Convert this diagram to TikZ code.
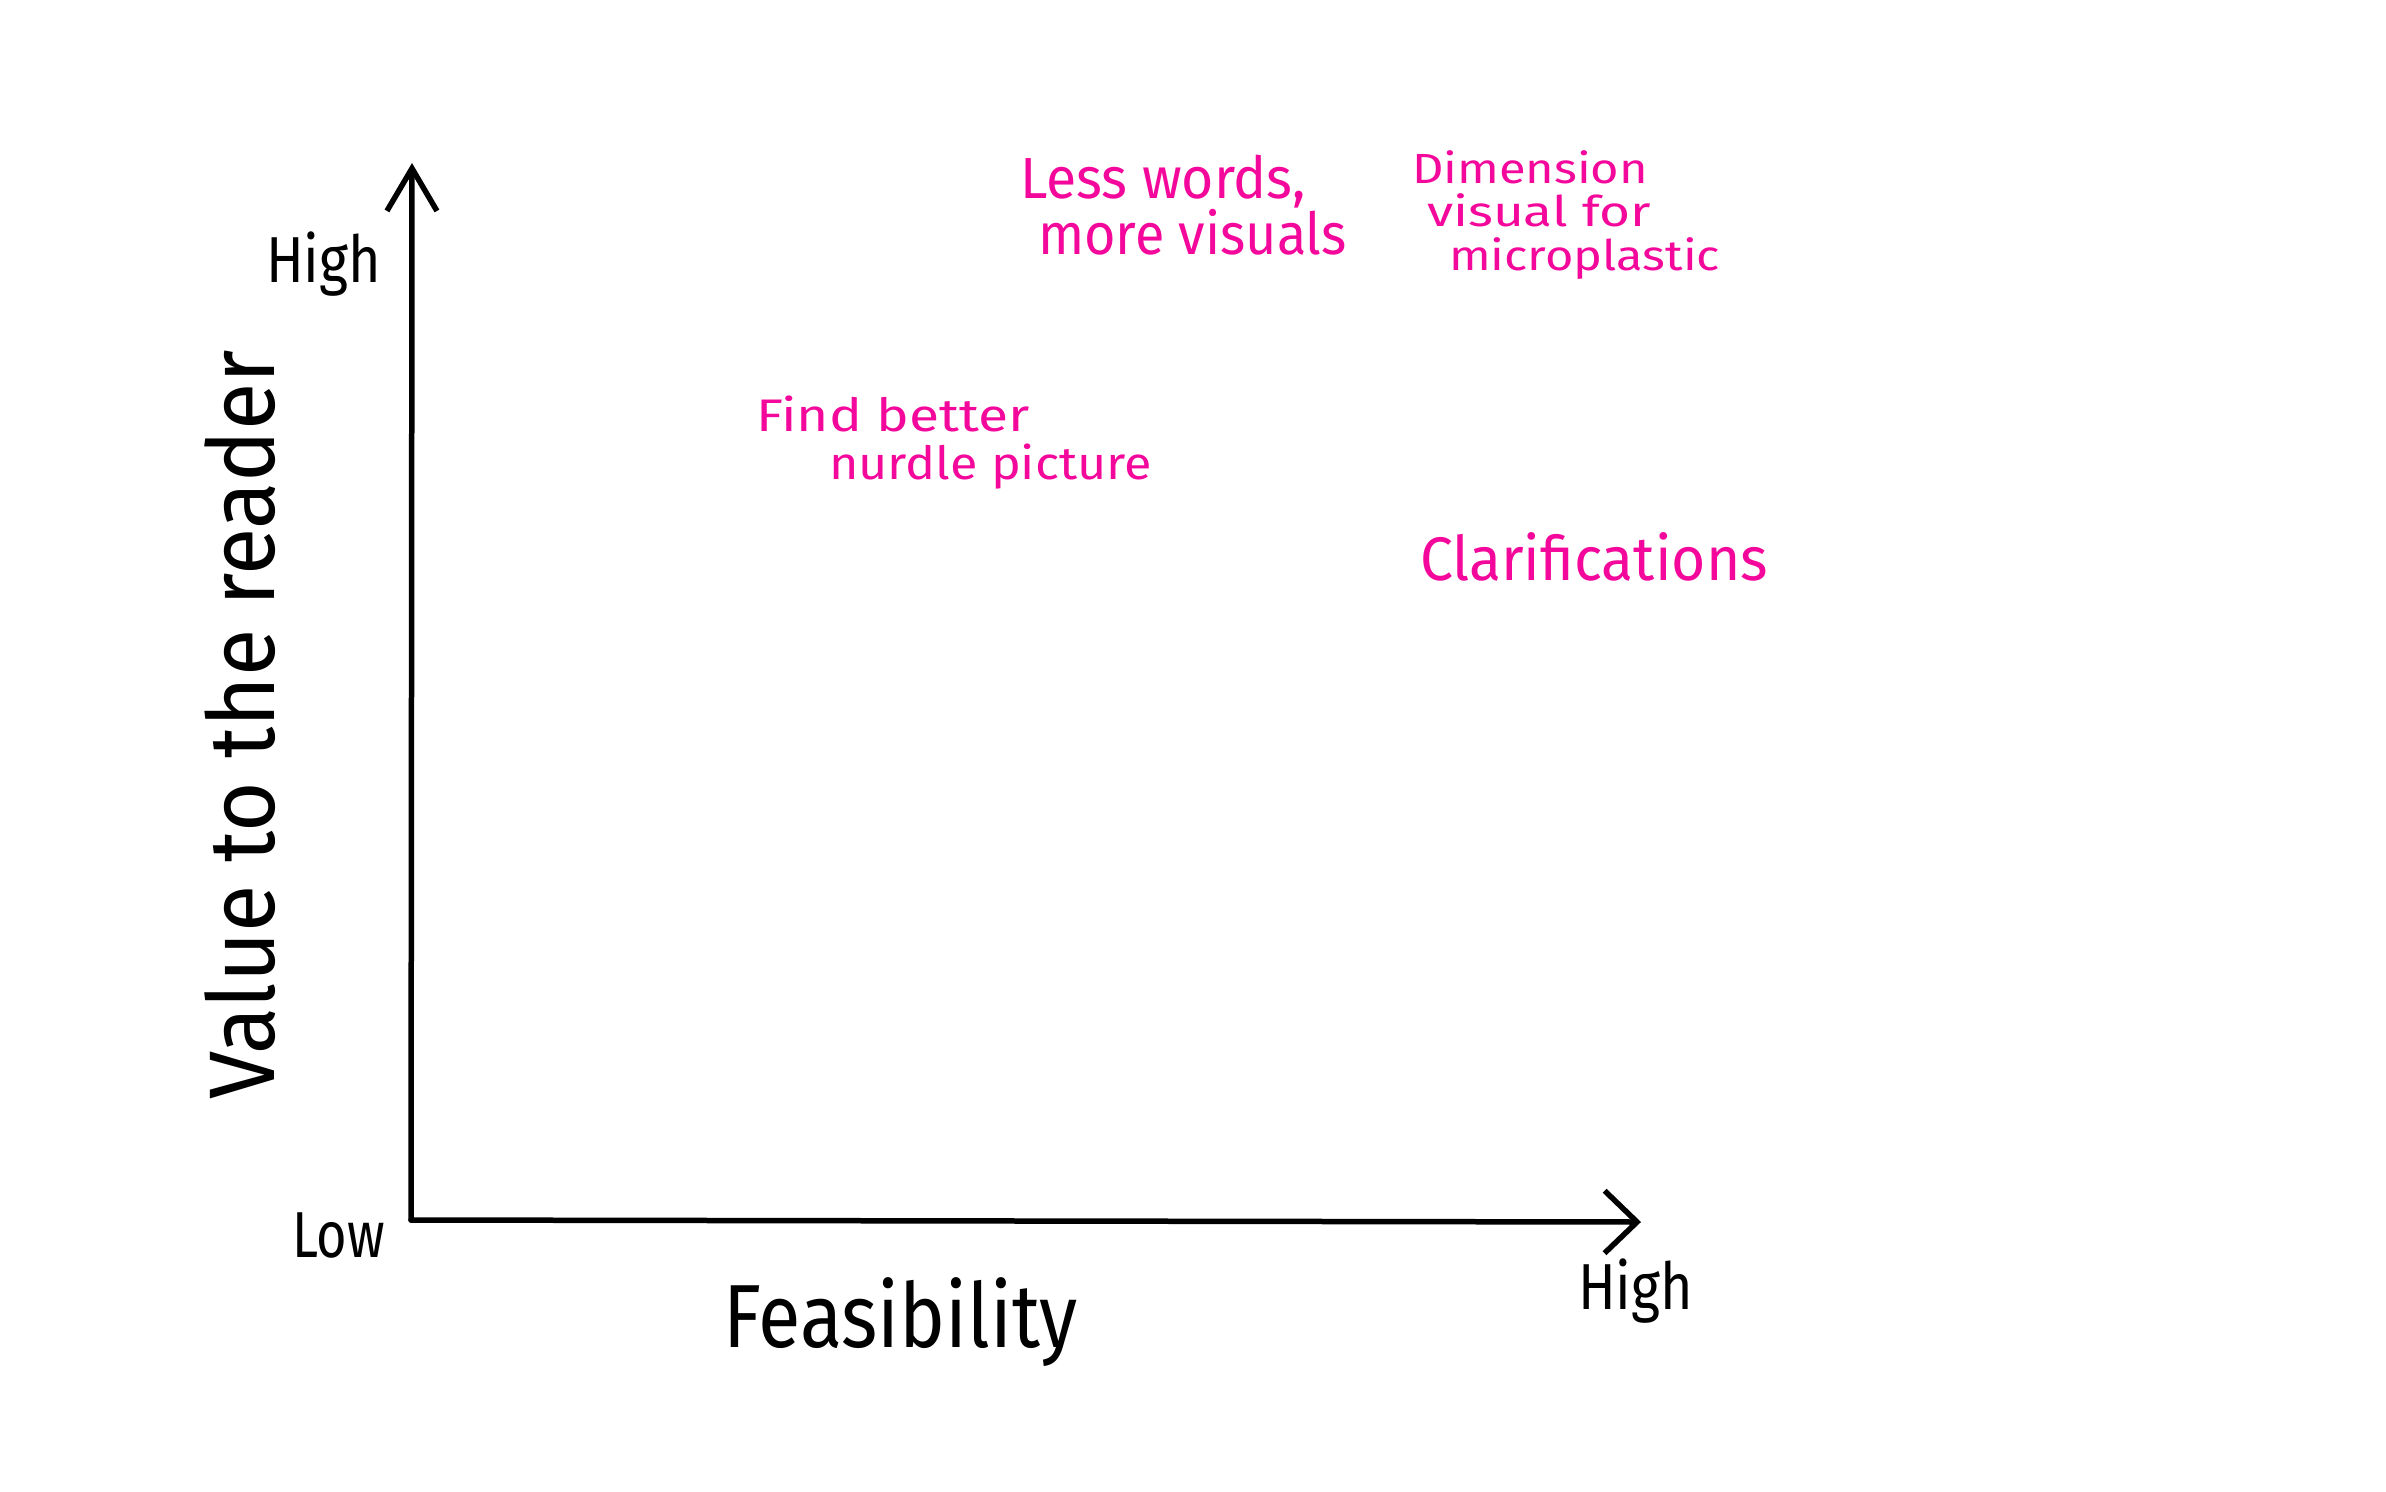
\documentclass[tikz,border=0pt]{standalone}
\usepackage{fontspec}
\setmainfont{Fira Sans}
\usetikzlibrary{arrows.meta}
\definecolor{hotpink}{HTML}{F4079B}
\newcommand{\fitw}[2]{\resizebox{#1}{\height}{#2}}
\tikzset{
  lbl/.style={anchor=base west, inner sep=0pt, outer sep=0pt},
  pinklbl/.style={lbl, text=hotpink},
  axisline/.style={line width=0.11cm, line cap=round, line join=round, black},
}
\begin{document}
\begin{tikzpicture}[x=0.02cm, y=-0.02cm]
\useasboundingbox (0,0) rectangle (2386,1491);
\coordinate (O) at (411,1220);
\coordinate (Ytop) at (412,163);
\coordinate (Xend) at (1641,1222);
\draw[axisline, -{Straight Barb[length=0.85cm, width=1.0cm, line width=0.11cm]}] (O) -- (Ytop);
\draw[axisline, -{Straight Barb[length=0.65cm, width=1.25cm, line width=0.11cm]}] (O) -- (Xend);

\node[lbl, font=\fontsize{37}{40}\selectfont] (yhigh) at (266,282) {\fitw{2.3cm}{High}};
\node[lbl, font=\fontsize{37}{40}\selectfont] (ylow) at (292,1257) {\fitw{1.86cm}{Low}};
\node[lbl, font=\fontsize{51}{56}\selectfont] (xlab) at (723,1347) {\fitw{7.1cm}{Feasibility}};
\node[lbl, font=\fontsize{37}{40}\selectfont] (xhigh) at (1578,1309) {\fitw{2.3cm}{High}};
\node[lbl, rotate=90, font=\fontsize{53}{58}\selectfont] (ylab) at (274,1099) {\fitw{14.98cm}{Value to the reader}};

\node[pinklbl, font=\fontsize{33}{36}\selectfont] (l1) at (1020,198) {\fitw{5.72cm}{Less words,}};
\node[pinklbl, font=\fontsize{33}{36}\selectfont] (l2) at (1038,254) {\fitw{6.18cm}{more visuals}};
\node[pinklbl, font=\fontsize{24}{27}\selectfont] (d1) at (1412,183) {\fitw{4.72cm}{Dimension}};
\node[pinklbl, font=\fontsize{24}{27}\selectfont] (d2) at (1427,226) {\fitw{4.48cm}{visual for}};
\node[pinklbl, font=\fontsize{24}{27}\selectfont] (d3) at (1449,270) {\fitw{5.42cm}{microplastic}};
\node[pinklbl, font=\fontsize{26}{29}\selectfont] (f1) at (756,431) {\fitw{5.48cm}{Find better}};
\node[pinklbl, font=\fontsize{26}{29}\selectfont] (f2) at (829,479) {\fitw{6.46cm}{nurdle picture}};
\node[pinklbl, font=\fontsize{35}{38}\selectfont] (c1) at (1420,580) {\fitw{6.96cm}{Clarifications}};
\end{tikzpicture}
\end{document}
